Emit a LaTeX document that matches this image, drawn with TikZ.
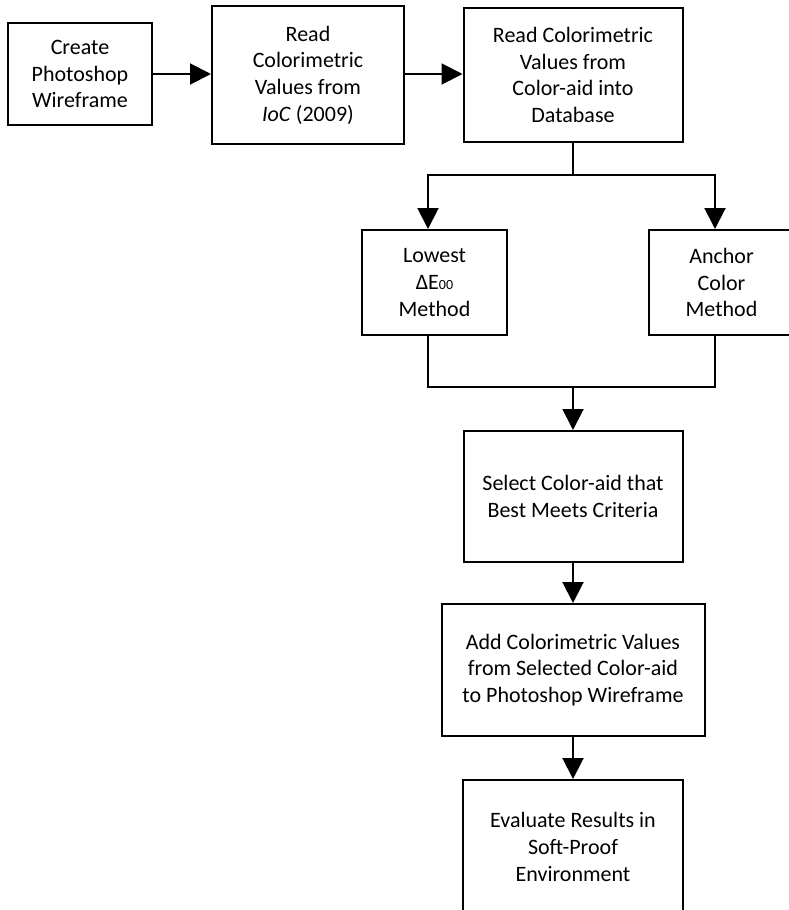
\documentclass[tikz,border=0pt]{standalone}
\usepackage{fontspec}
\setmainfont{Carlito}
\usetikzlibrary{arrows.meta}
\begin{document}
\begin{tikzpicture}[x=1pt,y=-1pt,
  stepbox/.style={draw, line width=2pt, align=center, inner sep=0pt,
    font=\fontsize{22}{26.7}\selectfont},
  flow/.style={line width=2pt, -{Triangle[width=21pt,length=21pt]}},
  link/.style={line width=2pt}]
\useasboundingbox (0,0) rectangle (789,910);
\clip (0,0) rectangle (789,910);
%% Top row
\node[stepbox, minimum width=144pt, minimum height=102pt] (create) at (80,74) {Create\\Photoshop\\Wireframe};
\node[stepbox, minimum width=192pt, minimum height=138pt] (readioc) at (308,75) {Read\\Colorimetric\\Values from\\\textit{IoC} (2009)};
\node[stepbox, minimum width=219pt, minimum height=134pt] (readca) at (573,75) {Read Colorimetric\\Values from\\Color-aid into\\Database};
%% Two methods
\node[stepbox, minimum width=145pt, minimum height=105pt] (lowest) at (434.5,282.5) {Lowest\\ΔE{\fontsize{14}{14}\selectfont 00}\\Method};
\node[stepbox, minimum width=145pt, minimum height=105pt] (anchor) at (721.5,282.5) {Anchor\\Color\\Method};
%% Lower column
\node[stepbox, minimum width=219pt, minimum height=131pt] (select) at (573,496.5) {Select Color-aid that\\Best Meets Criteria};
\node[stepbox, minimum width=263pt, minimum height=132pt] (add) at (573,670) {Add Colorimetric Values\\from Selected Color-aid\\to Photoshop Wireframe};
\node[stepbox, minimum width=220pt, minimum height=134pt] (evaluate) at (573,847) {Evaluate Results in\\Soft-Proof\\Environment};
%% Fork and join points
\coordinate (fork) at (573,175);
\coordinate (join) at (573,387);
%% Connectors
\draw[flow] (create) -- (readioc.west |- create);
\draw[flow] (readioc.east |- create) -- (readca.west |- create);
\draw[link] (readca) -- (fork);
\draw[flow] (fork) -| ([xshift=-6.5pt]lowest.north);
\draw[flow] (fork) -| ([xshift=-6.5pt]anchor.north);
\draw[link] ([xshift=-6.5pt]lowest.south) |- (join);
\draw[link] ([xshift=-6.5pt]anchor.south) |- (join);
\draw[flow] (join) -- (select);
\draw[flow] (select) -- (add);
\draw[flow] (add) -- (evaluate);
\end{tikzpicture}
\end{document}
